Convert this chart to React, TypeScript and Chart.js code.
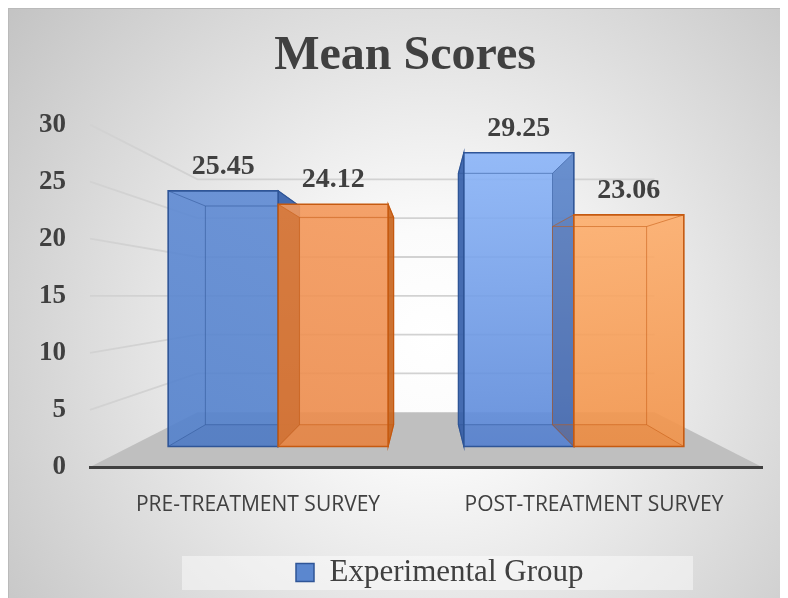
import React, { useEffect, useRef } from "react";
import { Chart, registerables } from "chart.js";

Chart.register(...registerables);

// ---------- data ----------
const categories = ["PRE-TREATMENT SURVEY", "POST-TREATMENT SURVEY"];
const seriesNames = ["Experimental Group", "Control Group"];
const experimentalScores = [25.45, 29.25];
const controlScores = [24.12, 23.06];
const yMin = 0;
const yMax = 30;
const yStep = 5;

// ---------- styles ----------
const W = 780;
const H = 590;
const FRONT_DEPTH = 0.88;
const BACK_DEPTH = 0.753;
const WALL_DEPTH = 0.68;

const frontTop = [
  ["#5d89d3", "#8ab4f8"],
  ["#f4985a", "#fdad6b"],
];
const frontBottom = [
  ["#5381cc", "#5b88d8"],
  ["#ec8b4b", "#f29349"],
];
const sideColors = ["#3560aa", "#c9661f"];
const edgeColors = ["#2f5597", "#c55a11"];
const textColor = "#404040";

type Pt = { x: number; y: number };

function poly(ctx: CanvasRenderingContext2D, pts: Pt[]) {
  ctx.beginPath();
  pts.forEach((p, i) => (i ? ctx.lineTo(p.x, p.y) : ctx.moveTo(p.x, p.y)));
  ctx.closePath();
}

function vanishing(chart: any) {
  const a = chart.chartArea;
  return { vx: (a.left + a.right) / 2, vy: (a.top + a.bottom) / 2 };
}

const scenePlugin = {
  id: "scene3d",
  afterLayout(chart: any) {
    const lg = chart.legend;
    if (lg) {
      const w = lg.right - lg.left;
      lg.left = 278;
      lg.right = 278 + w;
    }
    const t = chart.titleBlock;
    if (t) {
      t.left += 20;
      t.right += 20;
    }
  },
  beforeDraw(chart: any) {
    const { ctx, chartArea: a, scales } = chart;
    const { vx, vy } = vanishing(chart);
    const P = (x: number, y: number, d: number): Pt => ({ x: vx + (x - vx) * d, y: vy + (y - vy) * d });
    ctx.save();
    // background
    const g = ctx.createRadialGradient(425, 330, 0, 425, 330, 540);
    g.addColorStop(0, "#ffffff");
    g.addColorStop(0.2, "#fbfbfb");
    g.addColorStop(1, "#c3c3c3");
    ctx.fillStyle = g;
    ctx.fillRect(0, 0, chart.width, chart.height);
    ctx.fillStyle = "#bababa";
    ctx.fillRect(0, 0, chart.width, 1);
    ctx.fillRect(0, 0, 1, chart.height);
    // legend background
    ctx.fillStyle = "rgba(255,255,255,0.45)";
    ctx.fillRect(174, 548, 511, 34);
    // floor
    const ys = scales.y;
    const y0 = ys.getPixelForValue(0);
    poly(ctx, [P(a.left, y0, 1), P(a.right, y0, 1), P(a.right, y0, WALL_DEPTH), P(a.left, y0, WALL_DEPTH)]);
    ctx.fillStyle = "#bfbfbf";
    ctx.fill();
    // walls gridlines
    ctx.strokeStyle = "#d2d2d2";
    ctx.lineWidth = 1.8;
    ys.ticks.forEach((t: any) => {
      if (t.value === 0) return;
      const yy = ys.getPixelForValue(t.value);
      const f = P(a.left, yy, 1);
      const bl = P(a.left, yy, WALL_DEPTH);
      const br = P(a.right, yy, WALL_DEPTH);
      ctx.beginPath();
      ctx.moveTo(f.x, f.y);
      ctx.lineTo(bl.x, bl.y);
      ctx.lineTo(br.x, br.y);
      ctx.stroke();
    });
    ctx.restore();
  },
  beforeDatasetsDraw(chart: any) {
    const ctx: CanvasRenderingContext2D = chart.ctx;
    const { vx, vy } = vanishing(chart);
    const P = (x: number, y: number, d: number): Pt => ({ x: vx + (x - vx) * d, y: vy + (y - vy) * d });
    const bars: any[] = [];
    chart.data.datasets.forEach((ds: any, di: number) => {
      const meta = chart.getDatasetMeta(di);
      meta.data.forEach((el: any, i: number) => {
        const { x, y, base, width } = el.getProps(["x", "y", "base", "width"], true);
        const l = x - width / 2;
        const r = x + width / 2;
        const f = [P(l, y, FRONT_DEPTH), P(r, y, FRONT_DEPTH), P(r, base, FRONT_DEPTH), P(l, base, FRONT_DEPTH)];
        const b = [P(l, y, BACK_DEPTH), P(r, y, BACK_DEPTH), P(r, base, BACK_DEPTH), P(l, base, BACK_DEPTH)];
        bars.push({ di, i, x, f, b, value: ds.data[i] });
      });
    });
    ctx.save();
    // pass 1: outer side faces
    bars.forEach((bar) => {
      const { f, b, di } = bar;
      const leftFace = [f[0], b[0], b[3], f[3]];
      const rightFace = [f[1], b[1], b[2], f[2]];
      const outer = bar.x < vx ? rightFace : leftFace;
      poly(ctx, outer);
      ctx.globalAlpha = 0.92;
      ctx.fillStyle = sideColors[di];
      ctx.fill();
      ctx.globalAlpha = 1;
      ctx.strokeStyle = edgeColors[di];
      ctx.lineWidth = 1.2;
      ctx.stroke();
    });
    // pass 2: front faces
    bars.forEach((bar) => {
      const { f, b, di, i } = bar;
      const grad = ctx.createLinearGradient(0, f[0].y, 0, f[3].y);
      grad.addColorStop(0, frontTop[di][i]);
      grad.addColorStop(1, frontBottom[di][i]);
      poly(ctx, f);
      ctx.globalAlpha = 0.9;
      ctx.fillStyle = grad;
      ctx.fill();
      // inner adjacent face shading
      const leftFace = [f[0], b[0], b[3], f[3]];
      const rightFace = [f[1], b[1], b[2], f[2]];
      let inner: Pt[] | null = null;
      if (di === 0 && bar.x >= vx) inner = rightFace;
      if (di === 1 && bar.x <= vx) inner = leftFace;
      if (inner) {
        poly(ctx, inner);
        ctx.globalAlpha = 0.42;
        ctx.fillStyle = edgeColors[di];
        ctx.fill();
      }
      // bottom face
      poly(ctx, [f[3], f[2], b[2], b[3]]);
      ctx.globalAlpha = 0.12;
      ctx.fillStyle = edgeColors[di];
      ctx.fill();
      // back edges & diagonals
      ctx.globalAlpha = 0.55;
      ctx.strokeStyle = edgeColors[di];
      ctx.lineWidth = 1;
      poly(ctx, b);
      ctx.stroke();
      for (let k = 0; k < 4; k++) {
        ctx.beginPath();
        ctx.moveTo(f[k].x, f[k].y);
        ctx.lineTo(b[k].x, b[k].y);
        ctx.stroke();
      }
      // front edges
      ctx.globalAlpha = 1;
      ctx.lineWidth = 1.6;
      poly(ctx, f);
      ctx.stroke();
    });
    // data labels
    ctx.globalAlpha = 1;
    ctx.fillStyle = textColor;
    ctx.font = "bold 28px 'Liberation Serif'";
    ctx.textAlign = "center";
    ctx.textBaseline = "alphabetic";
    bars.forEach((bar) => {
      const { f } = bar;
      ctx.fillText(Number(bar.value).toFixed(2), (f[0].x + f[1].x) / 2, f[0].y - 17);
    });
    ctx.restore();
    return false;
  },
};

export default function App() {
  const ref = useRef<HTMLCanvasElement>(null);
  useEffect(() => {
    const chart = new Chart(ref.current as HTMLCanvasElement, {
      type: "bar",
      data: {
        labels: categories,
        datasets: [
          {
            label: seriesNames[0],
            data: experimentalScores,
            backgroundColor: "#5b87cf",
            borderColor: edgeColors[0],
            borderWidth: 1.5,
          },
          {
            label: seriesNames[1],
            data: controlScores,
            backgroundColor: "#f0914f",
            borderColor: edgeColors[1],
            borderWidth: 1.5,
          },
        ],
      },
      options: {
        responsive: false,
        animation: false,
        devicePixelRatio: 1,
        datasets: { bar: { categoryPercentage: 0.744, barPercentage: 1 } },
        layout: { padding: { left: 0, right: 26, top: 0, bottom: 0 } },
        plugins: {
          tooltip: { enabled: false },
          title: {
            display: true,
            text: "Mean Scores",
            color: textColor,
            font: { family: "'Liberation Serif'", size: 48, weight: "bold", lineHeight: 1.2 },
            padding: { top: 20, bottom: 39 },
          },
          legend: {
            display: true,
            position: "bottom",
            align: "start",
            labels: {
              color: textColor,
              font: { family: "'Liberation Serif'", size: 31 },
              boxWidth: 18,
              boxHeight: 18,
              padding: 10,
              filter: (item: any) => item.datasetIndex === 0,
            },
          },
        },
        scales: {
          x: {
            grid: { display: false, drawTicks: false },
            border: { display: true, color: "#404040", width: 3 },
            ticks: {
              color: textColor,
              padding: 25,
              font: { family: "'Open Sans'", size: 21 },
              maxRotation: 0,
            },
            afterFit: (s: any) => {
              s.height = 80;
            },
          },
          y: {
            min: yMin,
            max: yMax,
            grid: { display: false, drawTicks: false },
            border: { display: false },
            ticks: {
              stepSize: yStep,
              color: textColor,
              padding: 24,
              font: { family: "'Liberation Serif'", size: 27, weight: "bold" },
            },
            afterFit: (s: any) => {
              s.width = 82;
            },
          },
        },
      },
      plugins: [scenePlugin],
    });
    return () => chart.destroy();
  }, []);
  return (
    <div style={{ width: W, height: H }}>
      <canvas ref={ref} width={W} height={H} style={{ display: "block", width: W, height: H }} />
    </div>
  );
}
